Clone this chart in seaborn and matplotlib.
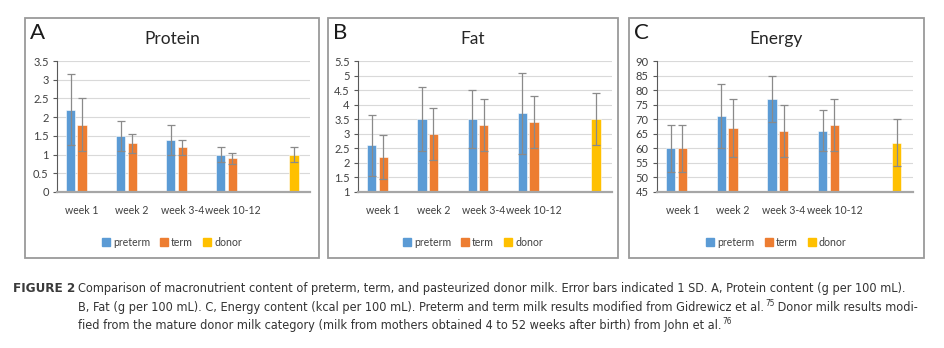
import matplotlib
matplotlib.use("Agg")
import matplotlib.pyplot as plt
from matplotlib.lines import Line2D
from matplotlib.patches import Rectangle
import seaborn as sns
import pandas as pd
import numpy as np

# ---------------- data ----------------
categories = ["week 1", "week 2", "week 3-4", "week 10-12", ""]
groups = ["preterm", "term", "donor"]
colors = ["#5B9BD5", "#ED7D31", "#FFC000"]

protein_preterm = [2.2, 1.5, 1.4, 1.0]
protein_preterm_sd = [0.95, 0.4, 0.4, 0.2]
protein_term = [1.8, 1.3, 1.2, 0.9]
protein_term_sd = [0.7, 0.25, 0.2, 0.15]
protein_donor = 1.0
protein_donor_sd = 0.2

fat_preterm = [2.6, 3.5, 3.5, 3.7]
fat_preterm_sd = [1.05, 1.1, 1.0, 1.4]
fat_term = [2.2, 3.0, 3.3, 3.4]
fat_term_sd = [0.75, 0.9, 0.9, 0.9]
fat_donor = 3.5
fat_donor_sd = 0.9

energy_preterm = [60, 71, 77, 66]
energy_preterm_sd = [8, 11, 8, 7]
energy_term = [60, 67, 66, 68]
energy_term_sd = [8, 10, 9, 9]
energy_donor = 62
energy_donor_sd = 8

protein_ticks = [0, 0.5, 1, 1.5, 2, 2.5, 3, 3.5]
fat_ticks = [1, 1.5, 2, 2.5, 3, 3.5, 4, 4.5, 5, 5.5]
energy_ticks = [45, 50, 55, 60, 65, 70, 75, 80, 85, 90]

panels = [
    ("A", "Protein", protein_preterm, protein_preterm_sd, protein_term, protein_term_sd,
     protein_donor, protein_donor_sd, protein_ticks),
    ("B", "Fat", fat_preterm, fat_preterm_sd, fat_term, fat_term_sd,
     fat_donor, fat_donor_sd, fat_ticks),
    ("C", "Energy", energy_preterm, energy_preterm_sd, energy_term, energy_term_sd,
     energy_donor, energy_donor_sd, energy_ticks),
]

caption_label = "FIGURE 2"
caption_line1 = ("Comparison of macronutrient content of preterm, term, and pasteurized donor milk. "
                 "Error bars indicated 1 SD. A, Protein content (g per 100 mL).")
caption_line2a = ("B, Fat (g per 100 mL). C, Energy content (kcal per 100 mL). Preterm and term milk "
                  "results modified from Gidrewicz et al.")
caption_sup2 = "75"
caption_line2b = " Donor milk results modi-"
caption_line3a = ("fied from the mature donor milk category (milk from mothers obtained 4 to 52 weeks "
                  "after birth) from John et al.")
caption_sup3 = "76"

# ---------------- layout (pixels) ----------------
W, H = 944, 348
sns.set_theme(style="white")
plt.rcParams["font.family"] = ["Lato", "DejaVu Sans"]
fig = plt.figure(figsize=(W / 100, H / 100), dpi=100)
fig.patch.set_facecolor("white")

axes_px = [(57, 310, 61, 192), (358, 612, 61, 192), (657, 913, 61, 192)]
borders_px = [(25, 319, 18, 258), (328, 618, 18, 258), (629, 924, 18, 258)]

def fx(x):
    return x / W

def fy(y):
    return 1 - y / H

txt_color = "#404040"

for (letter, title, pre, pre_sd, term, term_sd, don, don_sd, ticks), (l, r, t, b), (bl, br, bt, bb) in zip(
        panels, axes_px, borders_px):
    fig.add_artist(Rectangle((fx(bl), fy(bb)), fx(br - bl), (bb - bt) / H,
                             transform=fig.transFigure, fill=False,
                             edgecolor="#9a9a9a", linewidth=1.3, zorder=0))
    ax = fig.add_axes([fx(l), fy(b), fx(r - l), (b - t) / H])
    rows = []
    sds = {}
    for i, c in enumerate(categories[:4]):
        rows.append((c, "preterm", pre[i]))
        rows.append((c, "term", term[i]))
        sds[(c, "preterm")] = pre_sd[i]
        sds[(c, "term")] = term_sd[i]
    rows.append((categories[4], "donor", don))
    sds[(categories[4], "donor")] = don_sd
    df = pd.DataFrame(rows, columns=["week", "group", "value"])

    sns.barplot(data=df, x="week", y="value", hue="group", order=categories,
                hue_order=groups, palette=colors, errorbar=None, width=0.69,
                gap=0.2, ax=ax, legend=False, saturation=1,
                edgecolor="white", linewidth=0.4, zorder=2)

    for g, cont in zip(groups, ax.containers):
        for bar in cont:
            xc = bar.get_x() + bar.get_width() / 2
            h = bar.get_height()
            cat = categories[int(round(xc))]
            sd = sds.get((cat, g))
            if sd is None or np.isnan(h):
                continue
            ax.errorbar(xc, h, yerr=sd, fmt="none", ecolor="#8a8a8a",
                        elinewidth=0.9, capsize=2.6, capthick=0.9, zorder=3)

    ax.set_xlim(-0.5, 4.55)
    ax.set_ylim(ticks[0], ticks[-1])
    ax.set_yticks(ticks)
    ax.set_yticklabels([f"{v:g}" for v in ticks])
    ax.yaxis.grid(True, color="#d9d9d9", linewidth=0.8)
    ax.set_axisbelow(True)
    ax.set_xlabel("")
    ax.set_ylabel("")
    for s in ["top", "right"]:
        ax.spines[s].set_visible(False)
    ax.spines["left"].set_color("#595959")
    ax.spines["left"].set_linewidth(0.8)
    ax.spines["bottom"].set_color("#a6a6a6")
    ax.spines["bottom"].set_linewidth(1.6)
    ax.tick_params(axis="y", length=3, width=0.8, color="#595959", labelsize=8,
                   labelcolor=txt_color, pad=3, left=True)
    ax.tick_params(axis="x", length=0, labelsize=7.6, labelcolor=txt_color, pad=9)

    cx = (bl + br) / 2
    fig.text(fx(cx), fy(39), title, ha="center", va="center", fontsize=12.5,
             color="#262626")
    fig.text(fx(bl + 5), fy(33), letter, ha="left", va="center", fontsize=16,
             color="#1a1a1a")

    handles = [Line2D([], [], marker="s", linestyle="none", markersize=6,
                      markerfacecolor=c, markeredgecolor=c) for c in colors]
    fig.legend(handles, groups, loc="center", bbox_to_anchor=(fx(cx), fy(242)),
               ncol=3, frameon=False, fontsize=7.6, handlelength=0.7,
               handletextpad=0.3, columnspacing=1.0, labelcolor=txt_color)

# ---------------- caption ----------------
cap_font = ["Liberation Sans Narrow", "DejaVu Sans"]
cap_col = "#333333"
fig.canvas.draw()
renderer = fig.canvas.get_renderer()

def width_of(s, size, weight="normal"):
    t = fig.text(0, 0, s, fontsize=size, family=cap_font, fontweight=weight,
                 fontstretch="condensed")
    w = t.get_window_extent(renderer=renderer).width
    t.remove()
    return w

w2 = (width_of(caption_line2a, 10) + width_of(caption_sup2, 6.5) +
      width_of(caption_line2b, 10) + 1)
cap_size = min(10 * 845 / width_of(caption_line1, 10), 10 * 843 / w2)
lab_size = 10 * 62 / width_of(caption_label, 10, "bold")

def place(x_px, y_px, s, size, weight="normal", color=cap_col):
    t = fig.text(fx(x_px), fy(y_px), s, ha="left", va="baseline", fontsize=size,
                 family=cap_font, fontweight=weight, color=color,
                 fontstretch="condensed")
    return t.get_window_extent(renderer=renderer).x1

y1, y2, y3 = 292, 311, 329
place(13, y1, caption_label, lab_size, weight="bold", color="#3a3a3a")
place(78, y1, caption_line1, cap_size)
xe = place(78, y2, caption_line2a, cap_size)
xe = place(xe + 1, y2 - 5, caption_sup2, cap_size * 0.65)
place(xe, y2, caption_line2b, cap_size)
xe = place(78, y3, caption_line3a, cap_size)
place(xe + 1, y3 - 5, caption_sup3, cap_size * 0.65)

fig.savefig("out.png", dpi=100, facecolor="white")
